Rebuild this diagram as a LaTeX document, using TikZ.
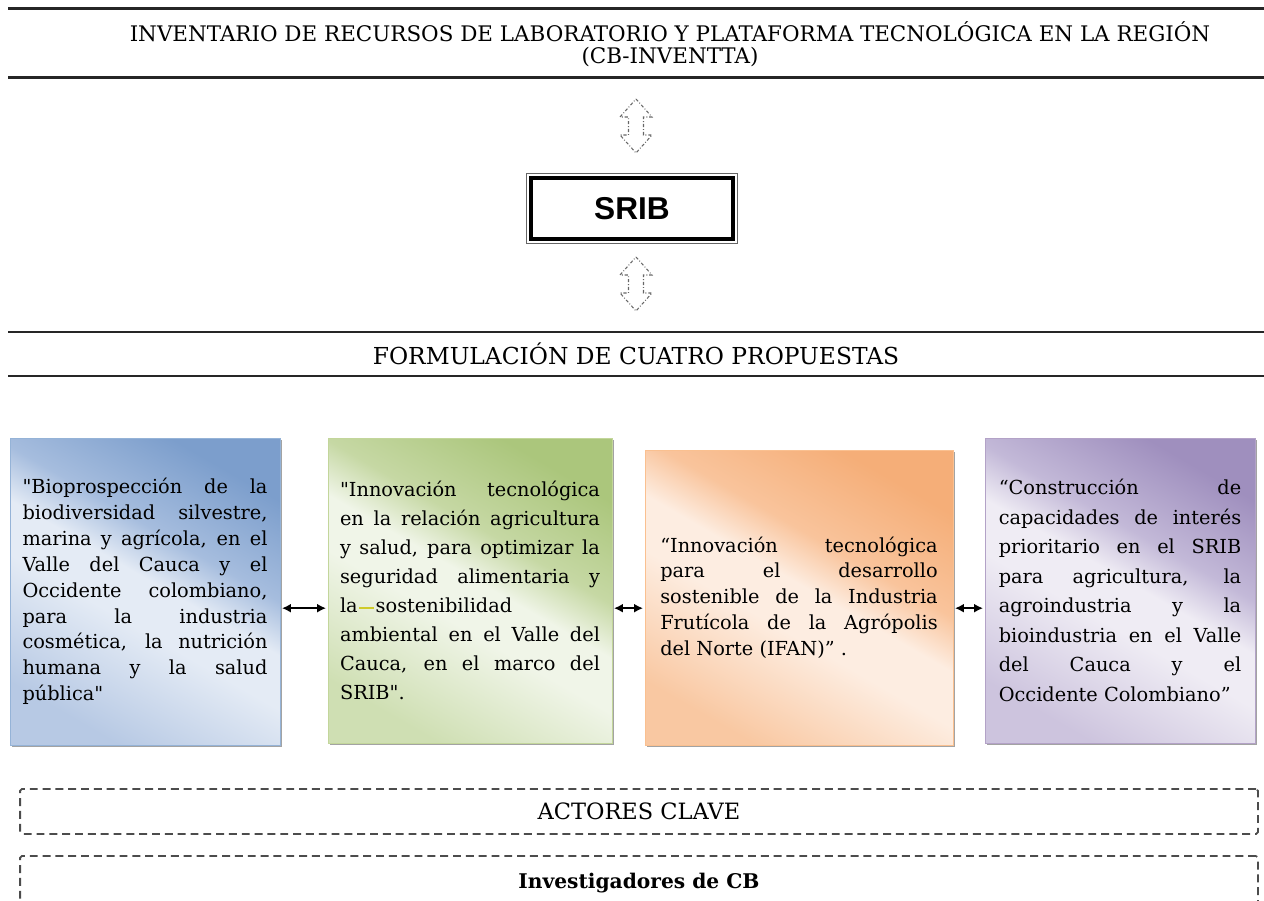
\documentclass[tikz,border=0pt]{standalone}
\usepackage{fontspec}
\setmainfont{DejaVu Serif}[Ligatures=TeXOff]
\setsansfont{Liberation Sans}
\usetikzlibrary{positioning,shadows,arrows.meta}

\definecolor{blueD}{HTML}{7C9ECC}\definecolor{blueM}{HTML}{A6BDDE}
\definecolor{blueL}{HTML}{E4EBF5}\definecolor{blueS}{HTML}{B7C9E4}
\definecolor{blueB}{HTML}{95B3D7}
\definecolor{greenD}{HTML}{ABC67C}\definecolor{greenM}{HTML}{C6D8A4}
\definecolor{greenL}{HTML}{F0F5E8}\definecolor{greenS}{HTML}{CFDFB3}
\definecolor{greenB}{HTML}{C3D69B}
\definecolor{orangeD}{HTML}{F5AE78}\definecolor{orangeM}{HTML}{F9C49C}
\definecolor{orangeL}{HTML}{FDEDE1}\definecolor{orangeS}{HTML}{F9C8A2}
\definecolor{orangeB}{HTML}{FAC090}
\definecolor{purpleD}{HTML}{9F8FBE}\definecolor{purpleM}{HTML}{C3B9D8}
\definecolor{purpleL}{HTML}{EFECF4}\definecolor{purpleS}{HTML}{CDC4DE}
\definecolor{purpleB}{HTML}{B3A2C7}
\definecolor{markyellow}{HTML}{CFCB2A}

\pgfdeclarehorizontalshading{bluegrad}{100bp}{color(0bp)=(blueS); color(25bp)=(blueS); color(44bp)=(blueL); color(52bp)=(blueL); color(60bp)=(blueM); color(75bp)=(blueD); color(100bp)=(blueD)}
\pgfdeclarehorizontalshading{greengrad}{100bp}{color(0bp)=(greenS); color(25bp)=(greenS); color(44bp)=(greenL); color(52bp)=(greenL); color(60bp)=(greenM); color(75bp)=(greenD); color(100bp)=(greenD)}
\pgfdeclarehorizontalshading{orangegrad}{100bp}{color(0bp)=(orangeS); color(25bp)=(orangeS); color(44bp)=(orangeL); color(52bp)=(orangeL); color(60bp)=(orangeM); color(75bp)=(orangeD); color(100bp)=(orangeD)}
\pgfdeclarehorizontalshading{purplegrad}{100bp}{color(0bp)=(purpleS); color(25bp)=(purpleS); color(44bp)=(purpleL); color(52bp)=(purpleL); color(60bp)=(purpleM); color(75bp)=(purpleD); color(100bp)=(purpleD)}

\tikzset{rule/.style = {line width=1.7pt, black!85},
         bandtext/.style = {align=center, font=\fontsize{12.2}{12.8}\selectfont},
         sribbox/.style = {draw, line width=2.2pt, minimum width=4.04cm, minimum height=1.22cm, font=\sffamily\bfseries\fontsize{18}{20}\selectfont},
         flowarrow/.style = {draw=black!60, line width=.6pt, dash pattern=on 1.8pt off 1.1pt on .5pt off 1.1pt},
         propbox/.style = {rectangle, draw=#1B, shade, shading=#1grad, shading angle=60, drop shadow={shadow xshift=1.3pt, shadow yshift=-1.3pt, opacity=.6, fill=black!60}, align=justify, inner sep=0pt},
         link/.style = {{Latex[length=5pt,width=5pt]}-{Latex[length=5pt,width=5pt]}, line width=.8pt, shorten <=1pt, shorten >=1pt},
         dashbox/.style = {draw=black!70, line width=1pt, dash pattern=on 4.5pt off 2.8pt, rounded corners=1pt, minimum width=24.76cm, font=\fontsize{12.8}{14}\selectfont}}

\newcommand{\dq}{\symbol{34}}

\begin{document}
\begin{tikzpicture}[x=0.02cm, y=-0.02cm]
            \path[use as bounding box, clip] (0,0) rectangle (1264,901);
            % titulo
            \draw[rule] (8,9) -- (1264,9);
            \node[bandtext] (inv) at (670,44) {INVENTARIO DE RECURSOS DE LABORATORIO Y PLATAFORMA TECNOLÓGICA EN LA REGIÓN\\(CB-INVENTTA)};
            \draw[rule] (8,78) -- (1264,78);
            \node[sribbox] (srib) at (632,208.5) {SRIB};
            \draw[black!60, line width=.6pt] ([shift={(-2.5,2.5)}]srib.south west) rectangle ([shift={(2.5,-2.5)}]srib.north east);
            % flechas dobles punteadas
            \foreach \y in {126,284}
                \draw[flowarrow, shift={(636,\y)}] (0,-27) -- (16,-9) -- (7.5,-9) -- (7.5,9) -- (16,9) -- (0,27) -- (-16,9) -- (-7.5,9) -- (-7.5,-9) -- (-16,-9) -- cycle;
            \draw[rule] (8,332) -- (1264,332);
            \node[bandtext, font=\fontsize{13.3}{14}\selectfont] (form) at (636,354) {FORMULACIÓN DE CUATRO PROPUESTAS};
            \draw[rule] (8,376) -- (1264,376);
            % propuestas
            \node[propbox=blue, minimum width=5.4cm, minimum height=6.14cm, text width=4.9cm, font=\fontsize{11}{14.7}\selectfont] (p1) at (145,591.5)
                {\dq Bioprospección de la\linebreak biodiversidad silvestre,\linebreak marina y agrícola, en el\linebreak Valle del Cauca y el\linebreak Occidente colombiano,\linebreak para la industria\linebreak cosmética, la nutrición\linebreak humana y la salud\linebreak pública\dq};
            \node[propbox=green, minimum width=5.68cm, minimum height=6.1cm, text width=5.2cm, font=\fontsize{11}{16.5}\selectfont] (p2) at (470,590.5)
                {\dq Innovación tecnológica\linebreak en la relación agricultura\linebreak y salud, para optimizar la\linebreak seguridad alimentaria y\linebreak la\kern1pt{\color{markyellow}\rule[.35ex]{.75em}{.9pt}}\kern1pt sostenibilidad\\ ambiental en el Valle del\linebreak Cauca, en el marco del\linebreak SRIB\dq.};
            \node[propbox=orange, minimum width=6.16cm, minimum height=5.9cm, text width=5.55cm, font=\fontsize{11}{14.7}\selectfont] (p3) at (799,597.5)
                {“Innovación tecnológica\linebreak para el desarrollo\linebreak sostenible de la Industria\linebreak Frutícola de la Agrópolis\linebreak del Norte (IFAN)” .};
            \node[propbox=purple, minimum width=5.4cm, minimum height=6.1cm, text width=4.85cm, font=\fontsize{11}{16.8}\selectfont] (p4) at (1120,590.5)
                {“Construcción de\linebreak capacidades de interés\linebreak prioritario en el SRIB\linebreak para agricultura, la\linebreak agroindustria y la\linebreak bioindustria en el Valle\linebreak del Cauca y el\linebreak Occidente Colombiano”};
            \foreach \a/\b in {p1/p2,p2/p3,p3/p4}
                \draw[link] ([yshift=-9.5pt]p1.east -| \a.east) -- ([yshift=-9.5pt]p1.east -| \b.west);
            % actores
            \node[dashbox, minimum height=0.9cm] (actores) at (639,811.5) {ACTORES CLAVE};
            \node[dashbox, minimum height=1.08cm, font=\bfseries\fontsize{11.5}{14}\selectfont] (invest) at (639,883) {Investigadores de CB};
        \end{tikzpicture}
\end{document}
